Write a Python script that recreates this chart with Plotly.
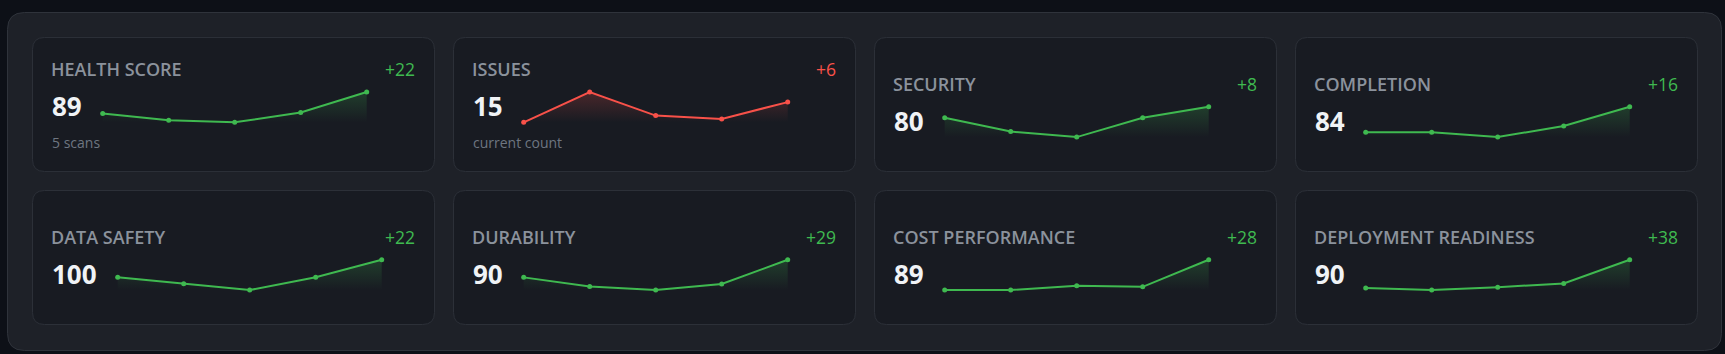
import plotly.graph_objects as go

# ---------------- data ----------------
labels = ["HEALTH SCORE", "ISSUES", "SECURITY", "COMPLETION",
          "DATA SAFETY", "DURABILITY", "COST PERFORMANCE", "DEPLOYMENT READINESS"]
subtitles = ["5 scans", "current count", "", "", "", "", "", ""]
higher_is_better = [True, False, True, True, True, True, True, True]

health_score = [67, 60, 58, 68, 89]
issues = [9, 18, 11, 10, 15]
security = [72, 62, 58, 72, 80]
completion = [68, 68, 65, 72, 84]
data_safety = [78, 70, 62, 78, 100]
durability = [61, 46, 40, 50, 90]
cost_performance = [61, 61, 65, 64, 89]
deployment_readiness = [52, 49, 53, 58, 90]

series = [health_score, issues, security, completion,
          data_safety, durability, cost_performance, deployment_readiness]
scans = [1, 2, 3, 4, 5]

# ---------------- style ----------------
W, H = 1725, 354
BG = "#0d1017"
PANEL = "#1e2128"
PANEL_LINE = "#2f333b"
CARD = "#181b22"
CARD_LINE = "#2c3038"
TITLE_C = "#8b929c"
NUM_C = "#f0f3f6"
SUB_C = "#6e7681"
GREEN = "#3fb950"
RED = "#f85149"
FONT = "Open Sans"


def fx(x):
    return x / W


def fy(y):
    return 1 - y / H


def rrect(x0, y0, x1, y1, r):
    pts = [
        ("M", [(x0 + r, y0)]), ("L", [(x1 - r, y0)]), ("Q", [(x1, y0), (x1, y0 + r)]),
        ("L", [(x1, y1 - r)]), ("Q", [(x1, y1), (x1 - r, y1)]),
        ("L", [(x0 + r, y1)]), ("Q", [(x0, y1), (x0, y1 - r)]),
        ("L", [(x0, y0 + r)]), ("Q", [(x0, y0), (x0 + r, y0)]),
    ]
    s = ""
    for cmd, ps in pts:
        s += cmd + " ".join(f"{fx(a):.6f},{fy(b):.6f}" for a, b in ps) + " "
    return s + "Z"


fig = go.Figure()
shapes = []
annotations = []

# outer panel
shapes.append(dict(type="path", xref="paper", yref="paper",
                   path=rrect(7.5, 12.5, 1721.5, 350.5, 17),
                   fillcolor=PANEL, line=dict(color=PANEL_LINE, width=1), layer="below"))

CW, CH = 402, 134
SPARK_W = 264
SPARK_H = 30.3
PAD = 5  # pixel padding around sparkline area (markers/line not clipped)

layout_axes = {}
for i, (lab, sub, vals, hib) in enumerate(zip(labels, subtitles, series, higher_is_better)):
    row, col = divmod(i, 4)
    cx0 = 32.5 + col * 421
    cy0 = 37.5 + row * 153
    shapes.append(dict(type="path", xref="paper", yref="paper",
                       path=rrect(cx0, cy0, cx0 + CW, cy0 + CH, 12),
                       fillcolor=CARD, line=dict(color=CARD_LINE, width=1), layer="below"))

    off = 0 if sub else 14.8
    tx = cx0 + 17.6
    current = vals[-1]
    delta = vals[-1] - vals[0]
    good = (delta >= 0) == hib
    color = GREEN if good else RED

    # title
    fs_t = 18
    annotations.append(dict(text=lab, x=fx(tx), y=fy(cy0 + 39.3 + off + 0.29 * fs_t),
                            xref="paper", yref="paper", xanchor="left", yanchor="bottom",
                            showarrow=False, borderpad=0,
                            font=dict(family=FONT, size=fs_t, color=TITLE_C, weight=600)))
    # delta
    fs_d = 17.5
    annotations.append(dict(text=f"{delta:+d}", x=fx(cx0 + CW - 19.0),
                            y=fy(cy0 + 39.3 + off + 0.29 * fs_d),
                            xref="paper", yref="paper", xanchor="right", yanchor="bottom",
                            showarrow=False, borderpad=0,
                            font=dict(family=FONT, size=fs_d, color=color)))
    # number
    fs_n = 26
    annotations.append(dict(text=f"{current}", x=fx(tx + 0.5), y=fy(cy0 + 80.3 + off + 0.29 * fs_n),
                            xref="paper", yref="paper", xanchor="left", yanchor="bottom",
                            showarrow=False, borderpad=0,
                            font=dict(family=FONT, size=fs_n, color=NUM_C, weight=700)))
    # subtitle
    if sub:
        fs_s = 14
        annotations.append(dict(text=sub, x=fx(tx + 0.5), y=fy(cy0 + 111.3 + 0.29 * fs_s),
                                xref="paper", yref="paper", xanchor="left", yanchor="bottom",
                                showarrow=False, borderpad=0,
                                font=dict(family=FONT, size=fs_s, color=SUB_C)))

    # sparkline geometry
    ndig = len(str(current))
    sx0 = cx0 + 19.2 + ndig * 15 + 21
    sx1 = sx0 + SPARK_W
    sy_top = cy0 + 54.5 + off
    sy_bot = sy_top + SPARK_H
    vmin, vmax = min(vals), max(vals)
    kx = (len(vals) - 1) / SPARK_W
    ky = (vmax - vmin) / SPARK_H
    xr = [scans[0] - PAD * kx, scans[-1] + PAD * kx]
    yr = [vmin - PAD * ky, vmax + PAD * ky]

    n = i + 1
    xa = "x" if n == 1 else f"x{n}"
    ya = "y" if n == 1 else f"y{n}"
    layout_axes["xaxis" if n == 1 else f"xaxis{n}"] = dict(
        domain=[fx(sx0 - PAD), fx(sx1 + PAD)], range=xr, visible=False, fixedrange=True,
        anchor=ya)
    layout_axes["yaxis" if n == 1 else f"yaxis{n}"] = dict(
        domain=[fy(sy_bot + PAD), fy(sy_top - PAD)], range=yr, visible=False, fixedrange=True,
        anchor=xa)

    rgb = "63,185,80" if good else "248,81,73"
    # baseline for fill
    fig.add_trace(go.Scatter(x=scans, y=[vmin] * len(vals), xaxis=xa, yaxis=ya,
                             mode="lines", line=dict(width=0, color="rgba(0,0,0,0)"),
                             hoverinfo="skip", showlegend=False))
    fig.add_trace(go.Scatter(x=scans, y=vals, xaxis=xa, yaxis=ya,
                             mode="lines+markers", fill="tonexty",
                             fillgradient=dict(type="vertical",
                                               colorscale=[[0, f"rgba({rgb},0.0)"],
                                                           [1, f"rgba({rgb},0.22)"]],
                                               start=vmin, stop=vmax),
                             line=dict(color=color, width=2),
                             marker=dict(color=color, size=5),
                             cliponaxis=False, hoverinfo="skip", showlegend=False))

fig.update_layout(width=W, height=H, margin=dict(l=0, r=0, t=0, b=0),
                  paper_bgcolor=BG, plot_bgcolor="rgba(0,0,0,0)",
                  shapes=shapes, annotations=annotations, **layout_axes)

fig.write_html("out.html", config=dict(displayModeBar=False, responsive=False))
